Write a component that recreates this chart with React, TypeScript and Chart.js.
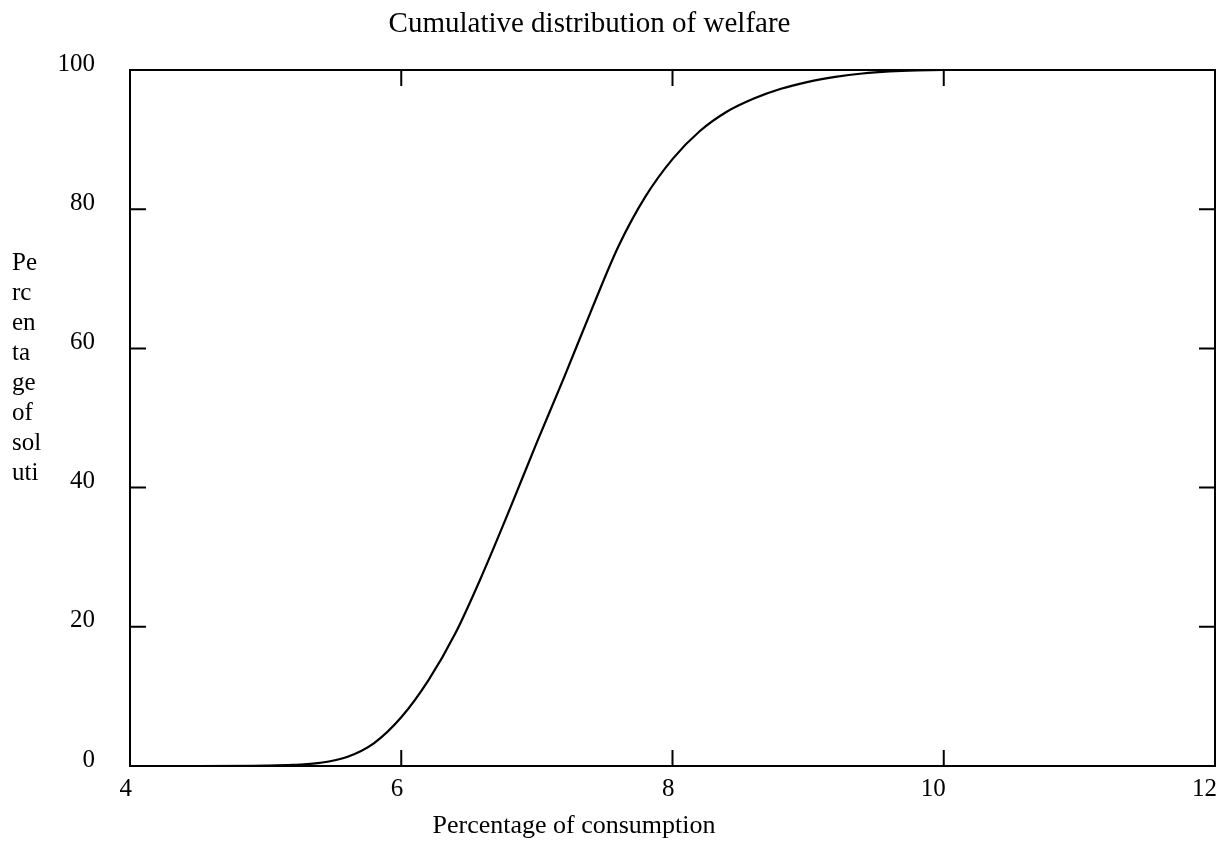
import React, { useEffect, useRef } from "react";
import { Chart, registerables } from "chart.js";

Chart.register(...registerables);

const chartTitle = "Cumulative distribution of welfare";
const xAxisTitle = "Percentage of consumption";
const yAxisTitleLines = ["Pe", "rc", "en", "ta", "ge", "of", "sol", "uti"];

const consumption = [4, 4.5, 5, 5.2, 5.4, 5.6, 5.8, 6, 6.2, 6.4, 6.6, 6.8, 7, 7.2, 7.4, 7.6, 7.8, 8, 8.2, 8.4, 8.6, 8.8, 9, 9.2, 9.4, 9.6, 9.8, 10, 10.5, 11, 12];
const percentSolutions = [0, 0, 0.05, 0.15, 0.45, 1.3, 3.3, 7.0, 12.3, 19.1, 27.6, 36.9, 46.5, 55.8, 65.4, 74.6, 81.8, 87.2, 91.2, 94.0, 95.9, 97.3, 98.3, 99.0, 99.5, 99.8, 99.95, 100, 100, 100, 100];

const xMin = 4;
const xMax = 12;
const xStep = 2;
const yMin = 0;
const yMax = 100;
const yStep = 20;

const FONT = '"Liberation Serif", "Times New Roman", Times, serif';

const framePlugin = {
  id: "frame",
  afterDraw(chart: any) {
    const { ctx, chartArea } = chart;
    const { left, right, top, bottom } = chartArea;
    const xs = chart.scales.x;
    const ys = chart.scales.y;
    const tl = 16;
    ctx.save();
    ctx.strokeStyle = "#000";
    ctx.lineWidth = 2;
    ctx.strokeRect(left, top, right - left, bottom - top);
    ctx.beginPath();
    xs.ticks.forEach((t: any) => {
      if (t.value === xMin || t.value === xMax) return;
      const px = xs.getPixelForValue(t.value);
      ctx.moveTo(px, bottom);
      ctx.lineTo(px, bottom - tl);
      ctx.moveTo(px, top);
      ctx.lineTo(px, top + tl);
    });
    ys.ticks.forEach((t: any) => {
      if (t.value === yMin || t.value === yMax) return;
      const py = ys.getPixelForValue(t.value);
      ctx.moveTo(left, py);
      ctx.lineTo(left + tl, py);
      ctx.moveTo(right, py);
      ctx.lineTo(right - tl, py);
    });
    ctx.stroke();

    ctx.fillStyle = "#000";
    ctx.textBaseline = "alphabetic";
    ctx.textAlign = "center";
    ctx.font = `29px ${FONT}`;
    ctx.fillText(chartTitle, 589.5, 32);
    ctx.font = `26px ${FONT}`;
    ctx.fillText(xAxisTitle, 574, 833);
    ctx.textAlign = "left";
    ctx.font = `25px ${FONT}`;
    yAxisTitleLines.forEach((s, i) => {
      ctx.fillText(s, 12, 270 + i * 30);
    });
    ctx.restore();
  },
};

export default function App() {
  const ref = useRef<HTMLCanvasElement | null>(null);
  useEffect(() => {
    if (!ref.current) return;
    const chart = new Chart(ref.current, {
      type: "line",
      data: {
        datasets: [
          {
            data: consumption.map((x, i) => ({ x, y: percentSolutions[i] })),
            borderColor: "#000",
            borderWidth: 2.2,
            pointRadius: 0,
            fill: false,
            cubicInterpolationMode: "monotone",
          },
        ],
      },
      options: {
        animation: false,
        responsive: false,
        devicePixelRatio: 1,
        layout: { padding: { left: 0, top: 70, right: 7, bottom: 0 } },
        plugins: { legend: { display: false }, title: { display: false }, tooltip: { enabled: false } },
        scales: {
          x: {
            type: "linear",
            min: xMin,
            max: xMax,
            grid: { display: false, drawTicks: false },
            border: { display: false },
            ticks: {
              stepSize: xStep,
              align: "end",
              labelOffset: 2,
              padding: 8,
              color: "#000",
              font: { family: FONT, size: 25 },
              maxRotation: 0,
            },
            afterFit: (s: any) => {
              s.height = 80;
            },
          },
          y: {
            type: "linear",
            min: yMin,
            max: yMax,
            grid: { display: false, drawTicks: false },
            border: { display: false },
            ticks: {
              stepSize: yStep,
              labelOffset: -6,
              padding: 35,
              color: "#000",
              font: { family: FONT, size: 25 },
            },
            afterFit: (s: any) => {
              s.width = 130;
            },
          },
        },
      },
      plugins: [framePlugin],
    } as any);
    return () => chart.destroy();
  }, []);
  return (
    <div style={{ position: "absolute", left: 0, top: 0, width: 1223, height: 846, background: "#fff" }}>
      <canvas ref={ref} width={1223} height={846} />
    </div>
  );
}
